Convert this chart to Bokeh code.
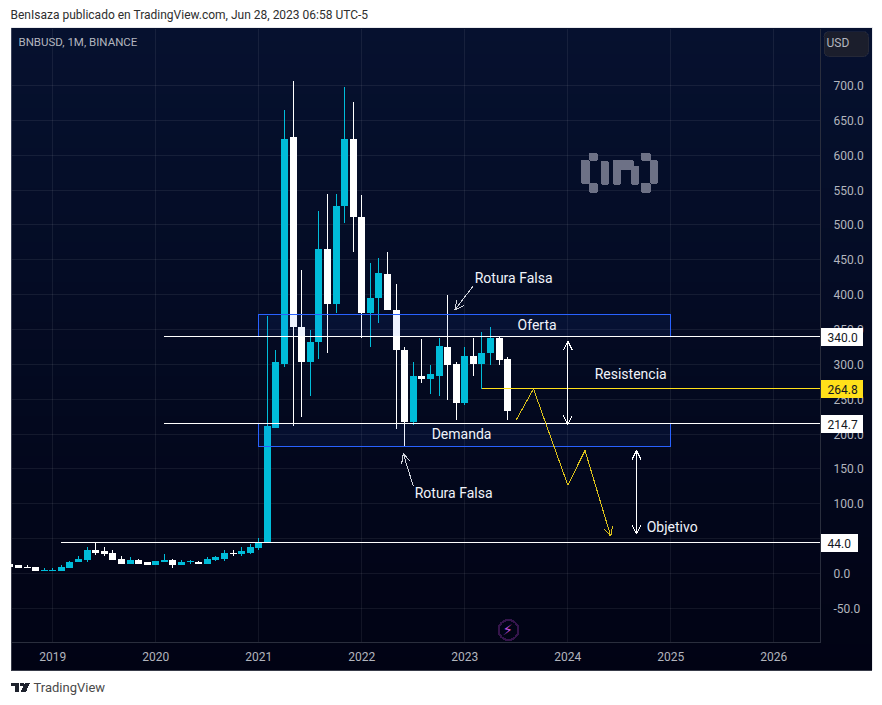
from bokeh.plotting import figure
from bokeh.models import (BoxAnnotation, Label, Arrow, OpenHead, FixedTicker, NumeralTickFormatter,
                          ColumnDataSource, PolyAnnotation, Range1d, LinearAxis)
from bokeh.embed import file_html
from bokeh.resources import INLINE

# month index: 0 = Jan 2019
months = list(range(-5, 54))
opens = [14.3,11.5,10,10,4.3,4.3,4.3,8.6,15.8,20,33,31.6,28.7,21.5,14.3,20,15.8,12.9,17.2,20,11.5,16.3,17.2,14.3,20,21.5,30,27.3,30,35.9,
         44.5,209.4,301.2,625.5,354.3,302.7,331.4,464.8,387.3,526.5,624,512.1,374.4,395.9,429,378.7,321.3,218,284,278.3,284,325.6,301.2,245.3,312.7,301.2,317,338.5,307]
highs = [14.3,11.5,11.5,10,7.2,7.2,11.5,18.6,25.8,38.7,44,37.3,33,24.4,23,21.5,17.2,18.6,27.3,21.5,20,19.1,18.6,23,24.4,34.4,33,37.3,41.6,51.6,
         368.7,321.3,664.2,705.8,434.7,348.6,520.7,545.1,545.1,697.2,675.7,542.3,446.1,453.3,460.5,414.6,324.2,302.7,337,299.8,338.5,398.8,302.7,324.2,338.5,347,352.9,340,309.9]
lows = [10,8.6,8.6,4.3,4.3,4.3,4.3,8.6,15.8,17.2,27,24.4,20,14.3,14.3,14.3,11.5,12.9,17.2,7.2,11.5,14.3,14.3,14.3,18.6,18.6,25.8,24.4,27.3,33,
        44.5,209.4,296.9,210.9,225.2,255.3,307,317,373,503.5,461.9,338.5,324.2,360,377.3,208,183.6,213.7,272.6,256.8,255.3,249.6,220.9,241,284,264.9,299.8,299.8,220.9]
closes = [10,8.6,8.6,4.3,5.7,5.7,10,17.2,21.5,33,30,27.3,20,14.3,20,14.3,12.9,18.6,20,11.5,17.2,17.7,14.3,21.5,23,30,27.3,31.6,37.3,44.5,
          210.9,302.7,624,352.9,302.7,332.8,464.8,387.3,526.5,624,510.7,374.4,395.9,430.4,377.3,319.9,218,284,278.3,285.5,327,299.8,245.3,312.7,301.2,317,338.5,305.6,232.4]

year_labels = ["2019","2020","2021","2022","2023","2024","2025","2026"]
year_months = [0,12,24,36,48,60,72,84]
price_ticks = [-50,0,50,100,150,200,250,300,350,400,450,500,550,600,650,700]

level_values = [340.0, 214.7, 44.0]
level_starts = [12.9, 12.9, 0.9]
yellow_level = 264.8
yellow_start = 50
zones_top = [371.5, 215.0]
zones_bottom = [340.0, 182.2]
zone_start = 24
zone_end = 72
path_m = [54, 56, 60, 62, 65]
path_p = [220.5, 264.8, 126.7, 176.4, 53.6]
arrows_white = [(60, 333.2, 60, 213.7), (68, 176.4, 68, 56.9)]
arrows_note = [(49, 413, 46.84, 378), (42, 125.2, 40.83, 171.7)]
notes = [("Rotura Falsa", 49.15, 424.6), ("Oferta", 54.15, 355.8), ("Demanda", 44.14, 199.4),
         ("Resistencia", 63.13, 285.5), ("Objetivo", 69.19, 66.0), ("Rotura Falsa", 42.16, 114.8)]

FONT = "Roboto"
UP, DOWN = "#00bcd9", "#ffffff"
M_L, M_R, P_B, P_T = -4.81, 89.44, -99.0, 781.8

p = figure(width=882, height=705, output_backend="svg", toolbar_location=None,
           x_range=Range1d(-6.0935, 96.66), y_range=Range1d(-189.36, 821.98),
           x_axis_location=None, y_axis_location=None,
           min_border_left=0, min_border_top=0, min_border_right=0, min_border_bottom=0)
p.outline_line_color = None
p.background_fill_color = "#ffffff"
p.border_fill_color = "#ffffff"
p.grid.visible = False
p.styles = {"shape-rendering": "crispEdges"}

def canvas_box(l, r, t, b, **kw):
    p.add_layout(BoxAnnotation(left=l, right=r, top=t, bottom=b,
                               left_units="canvas", right_units="canvas", top_units="canvas", bottom_units="canvas", **kw))

def canvas_text(x, y, text, color, size="12px", font=FONT, **kw):
    p.add_layout(Label(x=x, y=y, x_units="canvas", y_units="canvas", text=text, text_color=color,
                       text_font=font, text_font_size=size, text_baseline="middle", text_align="left", **kw))

# background gradient spanning the pane and both axis strips
N = 48
top_px, bot_px = 27.0, 670.0
for i in range(N):
    t = i / (N - 1)
    c = "#%02x%02x%02x" % (round(6 - 5*t), round(17 - 14*t), round(47 - 27*t))
    canvas_box(10.5, 871.5, top_px + (bot_px-top_px)*i/N, top_px + (bot_px-top_px)*(i+1)/N + .5,
               fill_color=c, fill_alpha=1, line_alpha=0, level="underlay")

# grid
p.segment(year_months, [P_B]*len(year_months), year_months, [P_T]*len(year_months), color="#ffffff", alpha=0.07, line_width=1)
p.segment([M_L]*len(price_ticks), price_ticks, [M_R]*len(price_ticks), price_ticks, color="#ffffff", alpha=0.07, line_width=1)

# axes, pinned inside the full-page frame
xax = LinearAxis(ticker=FixedTicker(ticks=year_months), major_label_overrides=dict(zip(year_months, year_labels)),
                 fixed_location=P_B, bounds=(M_L, M_R))
yax = LinearAxis(ticker=FixedTicker(ticks=price_ticks), formatter=NumeralTickFormatter(format="0.0"),
                 fixed_location=M_R, bounds=(P_B, P_T))
for ax in (xax, yax):
    ax.axis_line_color = "#2a2e3d"
    ax.major_tick_line_color = None
    ax.minor_tick_line_color = None
    ax.major_label_text_color = "#b2b5be"
    ax.major_label_text_font = FONT
    ax.major_label_text_font_size = "12px"
yax.major_label_standoff = 7
xax.major_label_standoff = 3
p.add_layout(xax, "below")
p.add_layout(yax, "right")

# candles: white falls, cyan rises
src = ColumnDataSource(dict(m=months, o=opens, h=highs, l=lows, c=closes,
                            top=[max(a, b) for a, b in zip(opens, closes)],
                            bottom=[min(a, b) for a, b in zip(opens, closes)],
                            color=[UP if b >= a else DOWN for a, b in zip(opens, closes)]))
p.segment("m", "h", "m", "l", source=src, color="color", line_width=1)
p.vbar("m", 0.815, "top", "bottom", source=src, fill_color="color", line_color=None)

# zones
p.quad(left=[zone_start]*2, right=[zone_end]*2, top=zones_top, bottom=zones_bottom,
       fill_color="#2962ff", fill_alpha=0.08, line_color="#2962ff", line_width=1)

# levels
for v, s in zip(level_values, level_starts):
    p.segment([s], [v], [M_R], [v], color="#ffffff", line_width=1)
p.segment([yellow_start], [yellow_level], [M_R], [yellow_level], color="#ffe01a", line_width=1)
p.line(path_m, path_p, color="#dcc21c", line_width=1)
p.add_layout(Arrow(end=OpenHead(size=9, line_color="#dcc21c", line_width=1), x_start=path_m[-2], y_start=path_p[-2],
                   x_end=path_m[-1], y_end=path_p[-1], line_color="#dcc21c", line_width=1))

for x0, y0, x1, y1 in arrows_white:
    p.add_layout(Arrow(start=OpenHead(size=9, line_color="#ffffff", line_width=1),
                       end=OpenHead(size=9, line_color="#ffffff", line_width=1),
                       x_start=x0, y_start=y0, x_end=x1, y_end=y1, line_color="#ffffff", line_width=1))
for x0, y0, x1, y1 in arrows_note:
    p.add_layout(Arrow(end=OpenHead(size=9, line_color="#d1d4dc", line_width=1),
                       x_start=x0, y_start=y0, x_end=x1, y_end=y1, line_color="#d1d4dc", line_width=1))

for t, m, v in notes:
    p.add_layout(Label(x=m, y=v, text=t, text_color="#f0f3fa", text_font=FONT, text_font_size="14px",
                       text_baseline="middle", text_align="left"))

# white strip that trims the candles at the pane's left edge
canvas_box(0, 10.5, 20, 680, fill_color="#ffffff", fill_alpha=1, line_alpha=0)

# price tags on the axis
tags = [("340.0", 336.5, "#ffffff", 862), ("264.8", 388.5, "#ffe01a", 862), ("214.7", 423.5, "#ffffff", 862), ("44.0", 542.5, "#ffffff", 857)]
for txt, y, col, r in tags:
    canvas_box(820, r, y - 9, y + 9, fill_color=col, fill_alpha=1, line_alpha=0, level="overlay")
    canvas_text(827, y, txt, "#131722", level="overlay")

# chrome
canvas_box(10.5, 871.5, 27, 669.5, fill_alpha=0, line_color="#b8bcc8", line_width=1)
canvas_box(823.5, 868, 31, 56, fill_color="#1b1e2c", fill_alpha=1, line_color="#3f4352", line_width=1, border_radius=5)
canvas_text(826, 42.5, "USD", "#b2b5be")
canvas_text(18, 41.5, "BNBUSD, 1M, BINANCE", "#b2b5be", size="11.5px")
canvas_text(10, 14, "BenIsaza publicado en TradingView.com, Jun 28, 2023 06:58 UTC-5", "#2e2e2e")
canvas_text(33, 687, "TradingView", "#4a4a4a", size="13px")

# watermark
G = "#6d7186"
for l, r, t, b in [(580.5, 589, 159, 183), (588, 597, 152, 160), (588, 597, 182, 192),
                   (649, 657, 159, 183), (640, 650, 152, 160), (640, 650, 182, 192),
                   (600, 608, 160, 184), (612.5, 620.5, 160, 184), (612.5, 633, 159.5, 169), (630, 638.5, 165, 184)]:
    canvas_box(l, r, t, b, fill_color=G, fill_alpha=1, line_alpha=0, border_radius=1)

# bolt badge
canvas_box(498, 518, 619.5, 639.5, fill_alpha=0, line_color="#b13fc9", line_width=2, border_radius=10)
canvas_text(502, 629.5, "\u26a1", "#c04fd8", size="15px", font="DejaVu Sans")

# TradingView logo
canvas_box(10, 18.5, 682, 685.5, fill_color="#1e222d", fill_alpha=1, line_alpha=0)
canvas_box(14, 18.5, 682, 691.5, fill_color="#1e222d", fill_alpha=1, line_alpha=0)
canvas_box(19.5, 23.5, 682, 686, fill_color="#1e222d", fill_alpha=1, line_alpha=0, border_radius=2)
p.add_layout(PolyAnnotation(xs=[24.5, 29.5, 25.5, 20], ys=[682, 682, 691.5, 691.5],
                            xs_units="canvas", ys_units="canvas", fill_color="#1e222d", fill_alpha=1, line_alpha=0))

open("out.html", "w").write(file_html(p, INLINE))
